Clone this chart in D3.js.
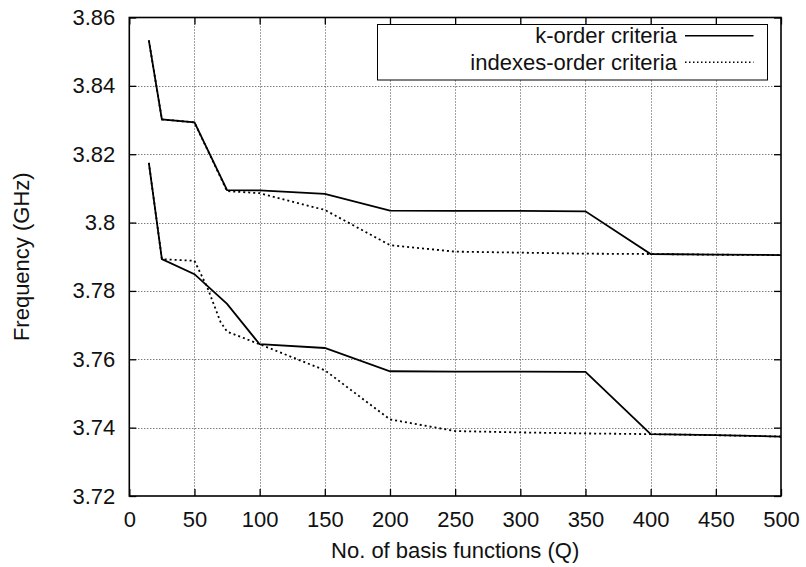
<!DOCTYPE html>
<html>
<head>
<meta charset="utf-8">
<script src="https://cdn.jsdelivr.net/npm/d3@7"></script>
<style>
  html, body { margin: 0; padding: 0; background: #fff; }
  svg { display: block; font-family: "Liberation Sans", Arial, Helvetica, sans-serif; }
</style>
</head>
<body>
<svg id="chart" width="806" height="567"></svg>
<script>
// Number of basis functions at which each eigenfrequency was computed
const qFull = [15, 25, 50, 75, 100, 150, 200, 250, 300, 350, 400, 450, 500];
const qIdxLow = [15, 25, 50, 60, 70, 75, 100, 150, 200, 250, 300, 350, 400, 450, 500];

// Upper mode (GHz)
const upperK   = [3.8533, 3.8302, 3.8293, 3.8095, 3.8094, 3.8084, 3.8035, 3.8034, 3.8034, 3.8033, 3.7908, 3.7906, 3.7905];
const upperIdx = [3.8533, 3.8302, 3.8293, 3.8092, 3.8086, 3.8037, 3.7934, 3.7915, 3.7912, 3.7909, 3.7908, 3.7906, 3.7905];

// Lower mode (GHz)
const lowerK   = [3.8175, 3.7893, 3.7849, 3.7762, 3.7644, 3.7633, 3.7565, 3.7564, 3.7564, 3.7563, 3.7381, 3.7378, 3.7374];
const lowerIdx = [3.8175, 3.7893, 3.7888, 3.7809, 3.7709, 3.7681, 3.7644, 3.7568, 3.7424, 3.7390, 3.7386, 3.7383, 3.7381, 3.7378, 3.7374];

const xTicks = [0, 50, 100, 150, 200, 250, 300, 350, 400, 450, 500];
const yTicks = [3.72, 3.74, 3.76, 3.78, 3.80, 3.82, 3.84, 3.86];
const yTickLabels = ["3.72", "3.74", "3.76", "3.78", "3.8", "3.82", "3.84", "3.86"];

const seriesNames = ["k-order criteria", "indexes-order criteria"];

const plotL = 129.3, plotR = 781, plotT = 17.5, plotB = 496;
const fontSize = 22;

const svg = d3.select("#chart");
const x = d3.scaleLinear().domain([0, 500]).range([plotL, plotR]);
const y = d3.scaleLinear().domain([3.72, 3.86]).range([plotB, plotT]);

// grid
const grid = svg.append("g").attr("stroke", "#444").attr("stroke-width", 1)
  .attr("stroke-dasharray", "1,2").attr("fill", "none");
grid.selectAll("line.gx").data(xTicks.slice(1, -1)).join("line")
  .attr("x1", d => Math.round(x(d)) + 0.5).attr("x2", d => Math.round(x(d)) + 0.5)
  .attr("y1", plotT).attr("y2", plotB);
grid.selectAll("line.gy").data(yTicks.slice(1, -1)).join("line")
  .attr("y1", d => Math.round(y(d)) + 0.5).attr("y2", d => Math.round(y(d)) + 0.5)
  .attr("x1", plotL).attr("x2", plotR);

// axes with inward ticks on all four sides
const tickLen = 7;
const axB = svg.append("g").attr("transform", `translate(0,${plotB})`)
  .call(d3.axisBottom(x).tickValues(xTicks).tickSize(-tickLen).tickPadding(15).tickFormat(d3.format("d")));
const axL = svg.append("g").attr("transform", `translate(${plotL},0)`)
  .call(d3.axisLeft(y).tickValues(yTicks).tickSize(-tickLen).tickPadding(14)
    .tickFormat((d, i) => yTickLabels[i]));
const axT = svg.append("g").attr("transform", `translate(0,${plotT})`)
  .call(d3.axisTop(x).tickValues(xTicks).tickSize(-tickLen).tickFormat(""));
const axR = svg.append("g").attr("transform", `translate(${plotR},0)`)
  .call(d3.axisRight(y).tickValues(yTicks).tickSize(-tickLen).tickFormat(""));

[axB, axL, axT, axR].forEach(a => {
  a.select(".domain").remove();
  a.selectAll(".tick line").attr("stroke", "#000").attr("stroke-width", 1.3);
  a.selectAll(".tick text").attr("font-size", fontSize).attr("fill", "#111")
    .attr("font-family", "Liberation Sans, Arial, sans-serif");
});

// curves
const line = d3.line().x(d => x(d[0])).y(d => y(d[1]));
const curves = [
  { q: qFull, v: upperIdx, dash: "2,3" },
  { q: qIdxLow, v: lowerIdx, dash: "2,3" },
  { q: qFull, v: upperK, dash: null },
  { q: qFull, v: lowerK, dash: null }
];
svg.append("g").selectAll("path").data(curves).join("path")
  .attr("d", c => line(c.q.map((q, i) => [q, c.v[i]])))
  .attr("fill", "none").attr("stroke", "#000").attr("stroke-width", 1.8)
  .attr("stroke-dasharray", c => c.dash);

// frame
svg.append("rect").attr("x", plotL).attr("y", plotT)
  .attr("width", plotR - plotL).attr("height", plotB - plotT)
  .attr("fill", "none").attr("stroke", "#000").attr("stroke-width", 1.6);

// legend
const lg = svg.append("g");
lg.append("rect").attr("x", 377.5).attr("y", 24.5).attr("width", 390).attr("height", 55.5)
  .attr("fill", "#fff").attr("stroke", "#000").attr("stroke-width", 1);
const legendRows = [
  { name: seriesNames[0], dash: null, cy: 35.7, sw: 1.6 },
  { name: seriesNames[1], dash: "1.5,2.5", cy: 62.3, sw: 1.5 }
];
legendRows.forEach(r => {
  lg.append("text").attr("x", 677).attr("y", r.cy).attr("dy", "0.35em")
    .attr("text-anchor", "end").attr("font-size", fontSize).attr("fill", "#111").text(r.name);
  lg.append("line").attr("x1", 685).attr("x2", 753.5).attr("y1", r.cy).attr("y2", r.cy)
    .attr("stroke", "#000").attr("stroke-width", r.sw).attr("stroke-dasharray", r.dash);
});

// axis titles
svg.append("text").attr("x", (plotL + plotR) / 2).attr("y", 558)
  .attr("text-anchor", "middle").attr("font-size", fontSize).attr("fill", "#111")
  .text("No. of basis functions (Q)");
svg.append("text").attr("transform", `translate(29,${(plotT + plotB) / 2}) rotate(-90)`)
  .attr("text-anchor", "middle").attr("font-size", fontSize).attr("fill", "#111")
  .text("Frequency (GHz)");
</script>
</body>
</html>
